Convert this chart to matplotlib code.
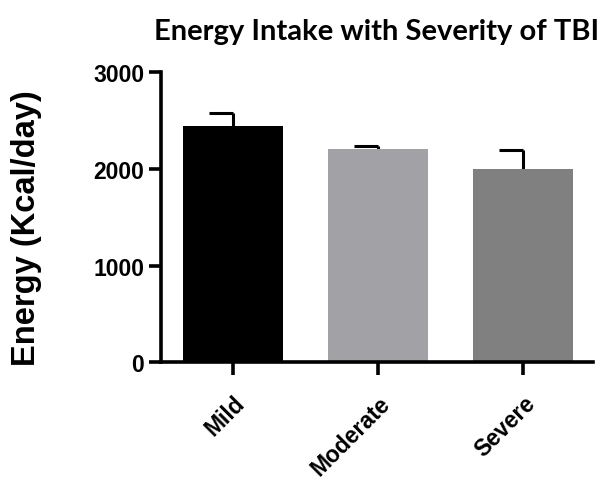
import matplotlib.pyplot as plt
import numpy as np

plt.rcParams['font.family'] = ['Liberation Sans', 'DejaVu Sans']
plt.rcParams['font.weight'] = 'bold'

# data
groups = ['Mild', 'Moderate', 'Severe']
energy = [2447, 2206, 2000]
sem = [128, 28, 196]
bar_colors = ['#000000', '#A2A1A6', '#808080']

fig = plt.figure(figsize=(6.02, 4.81), dpi=100)
ax = fig.add_axes([0.267, 0.2447, 0.718, 0.603])

x = np.arange(len(groups))
ax.bar(x, energy, width=0.69, color=bar_colors, zorder=2)

# upper error bar with a cap only on the left half
top = np.array(energy) + np.array(sem)
ax.vlines(x, energy, top, color='black', linewidth=2.2, zorder=1)
ax.hlines(top, x - 0.165, x, color='black', linewidth=2.2, zorder=1)

ax.set_xlim(-0.5, 2.48)
ax.set_ylim(0, 3000)
ax.set_yticks([0, 1000, 2000, 3000])
ax.set_xticks(x)

for side in ['top', 'right']:
    ax.spines[side].set_visible(False)
for side in ['left', 'bottom']:
    ax.spines[side].set_linewidth(2.6)

ax.tick_params(axis='both', width=2.6, length=9, direction='out')
ax.tick_params(axis='y', pad=3)
ax.tick_params(axis='x', pad=12)
ax.set_yticklabels(['0', '1000', '2000', '3000'], fontsize=16.5, fontweight='bold')
ax.set_xticklabels(groups, fontsize=16.5, fontweight='bold',
                   rotation=45, ha='right', rotation_mode='anchor')

ax.set_ylabel('Energy (Kcal/day)', fontsize=23.5, fontweight='bold')
ax.yaxis.set_label_coords(-0.2746, 0.4666)

fig.text(0.625, 0.933, 'Energy Intake with Severity of TBI', fontsize=21,
         fontweight='bold', family='Lato', ha='center', va='center')

fig.savefig('out.png', dpi=100)
